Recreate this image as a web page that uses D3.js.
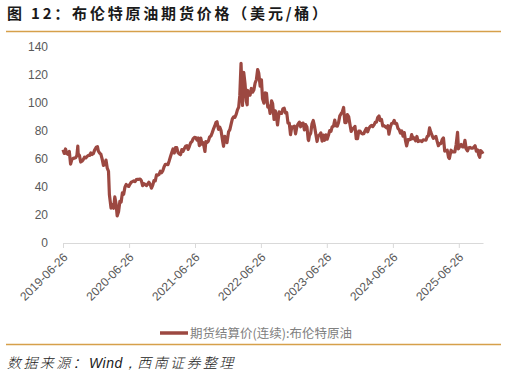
<!DOCTYPE html>
<html>
<head>
<meta charset="utf-8">
<script src="https://cdn.jsdelivr.net/npm/d3@7"></script>
<style>
  body { margin: 0; background: #fff; }
  svg { display: block; }
</style>
</head>
<body>
<div id="chart"></div>
<script>
// Brent futures settlement (continuous), USD/bbl, roughly weekly readings
var dates = [
  "2019-06-26","2019-07-03","2019-07-10","2019-07-17","2019-07-24","2019-07-31","2019-08-07","2019-08-14","2019-08-21","2019-08-28",
  "2019-09-04","2019-09-11","2019-09-16","2019-09-18","2019-09-25","2019-10-02","2019-10-09","2019-10-16","2019-10-23","2019-10-30",
  "2019-11-06","2019-11-13","2019-11-20","2019-11-27","2019-12-04","2019-12-11","2019-12-18","2019-12-27",
  "2020-01-03","2020-01-08","2020-01-15","2020-01-22","2020-01-29","2020-02-05","2020-02-12","2020-02-19","2020-02-26","2020-03-04",
  "2020-03-09","2020-03-18","2020-03-25","2020-04-01","2020-04-08","2020-04-15","2020-04-21","2020-04-29","2020-05-06","2020-05-13",
  "2020-05-20","2020-05-27","2020-06-03","2020-06-10","2020-06-17","2020-06-24","2020-07-01","2020-07-08","2020-07-15","2020-07-22",
  "2020-07-29","2020-08-05","2020-08-12","2020-08-19","2020-08-26","2020-09-02","2020-09-09","2020-09-16","2020-09-23","2020-09-30",
  "2020-10-07","2020-10-14","2020-10-21","2020-10-28","2020-11-04","2020-11-11","2020-11-18","2020-11-25","2020-12-02","2020-12-09",
  "2020-12-16","2020-12-23","2020-12-30",
  "2021-01-06","2021-01-13","2021-01-20","2021-01-27","2021-02-03","2021-02-10","2021-02-17","2021-02-24","2021-03-03","2021-03-10",
  "2021-03-17","2021-03-24","2021-03-31","2021-04-07","2021-04-14","2021-04-21","2021-04-28","2021-05-05","2021-05-12","2021-05-19",
  "2021-05-26","2021-06-02","2021-06-09","2021-06-16","2021-06-23","2021-06-30","2021-07-07","2021-07-14","2021-07-20","2021-07-28",
  "2021-08-04","2021-08-11","2021-08-20","2021-08-25","2021-09-01","2021-09-08","2021-09-15","2021-09-22","2021-09-28","2021-10-06",
  "2021-10-13","2021-10-20","2021-10-26","2021-11-03","2021-11-10","2021-11-17","2021-11-26","2021-12-01","2021-12-08","2021-12-15",
  "2021-12-20","2021-12-29",
  "2022-01-05","2022-01-12","2022-01-19","2022-01-26","2022-02-02","2022-02-09","2022-02-16","2022-02-23","2022-03-01","2022-03-08",
  "2022-03-16","2022-03-23","2022-03-30","2022-04-06","2022-04-11","2022-04-13","2022-04-20","2022-04-27","2022-05-04","2022-05-11",
  "2022-05-18","2022-05-25","2022-06-01","2022-06-08","2022-06-14","2022-06-22","2022-06-29","2022-07-05","2022-07-13","2022-07-20",
  "2022-07-27","2022-08-03","2022-08-10","2022-08-16","2022-08-24","2022-08-30","2022-09-07","2022-09-14","2022-09-21","2022-09-26",
  "2022-10-05","2022-10-12","2022-10-19","2022-10-26","2022-11-02","2022-11-09","2022-11-16","2022-11-23","2022-11-30","2022-12-07",
  "2022-12-14","2022-12-21","2022-12-28",
  "2023-01-04","2023-01-11","2023-01-18","2023-01-25","2023-02-01","2023-02-08","2023-02-15","2023-02-22","2023-03-01","2023-03-08",
  "2023-03-15","2023-03-17","2023-03-22","2023-03-29","2023-04-05","2023-04-12","2023-04-19","2023-04-26","2023-05-03","2023-05-10",
  "2023-05-17","2023-05-24","2023-05-31","2023-06-07","2023-06-14","2023-06-21","2023-06-28","2023-07-05","2023-07-12","2023-07-19",
  "2023-07-26","2023-08-02","2023-08-09","2023-08-16","2023-08-23","2023-08-30","2023-09-06","2023-09-13","2023-09-20","2023-09-27",
  "2023-10-04","2023-10-11","2023-10-18","2023-10-25","2023-11-01","2023-11-08","2023-11-15","2023-11-22","2023-11-29","2023-12-06",
  "2023-12-13","2023-12-20","2023-12-27",
  "2024-01-03","2024-01-10","2024-01-17","2024-01-24","2024-01-31","2024-02-07","2024-02-14","2024-02-21","2024-02-28","2024-03-06",
  "2024-03-13","2024-03-20","2024-03-27","2024-04-03","2024-04-10","2024-04-17","2024-04-24","2024-05-01","2024-05-08","2024-05-15",
  "2024-05-22","2024-05-29","2024-06-04","2024-06-12","2024-06-19","2024-06-26","2024-07-03","2024-07-10","2024-07-17","2024-07-24",
  "2024-07-31","2024-08-07","2024-08-14","2024-08-21","2024-08-28","2024-09-04","2024-09-10","2024-09-18","2024-09-25","2024-10-02",
  "2024-10-08","2024-10-16","2024-10-23","2024-10-30","2024-11-06","2024-11-13","2024-11-20","2024-11-27","2024-12-04","2024-12-11",
  "2024-12-18","2024-12-26",
  "2025-01-02","2025-01-08","2025-01-15","2025-01-22","2025-01-29","2025-02-05","2025-02-12","2025-02-19","2025-02-26","2025-03-05",
  "2025-03-12","2025-03-19","2025-03-26","2025-04-02","2025-04-09","2025-04-16","2025-04-23","2025-04-30","2025-05-05","2025-05-14",
  "2025-05-21","2025-05-28","2025-06-04","2025-06-11","2025-06-19","2025-06-24","2025-07-02","2025-07-09","2025-07-16","2025-07-23",
  "2025-07-30","2025-08-06","2025-08-13","2025-08-20","2025-08-27","2025-09-03","2025-09-10","2025-09-17","2025-09-24","2025-10-01",
  "2025-10-08","2025-10-15","2025-10-20","2025-10-24","2025-10-31","2025-11-07"
];
var prices = [
  66.5,63.8,67.0,63.7,63.2,65.2,56.2,59.5,60.3,60.5,
  60.7,62.4,69.0,63.6,62.4,57.7,58.3,59.4,61.2,60.6,
  61.7,62.4,62.4,64.1,63.0,63.7,66.2,68.2,
  68.6,65.4,64.0,63.2,59.8,55.3,55.8,59.1,53.4,51.1,
  34.4,24.9,27.4,24.7,32.8,27.7,19.3,22.5,29.7,29.2,
  35.8,34.7,39.8,41.7,40.7,40.3,42.0,43.3,43.8,44.3,
  43.8,45.2,45.4,45.4,45.6,44.4,40.8,42.2,41.7,40.9,
  41.9,43.3,41.7,39.1,41.2,44.5,44.3,48.6,48.3,48.9,
  51.1,50.1,51.6,
  54.3,56.1,56.1,55.8,58.5,61.5,64.3,67.0,64.1,67.9,
  68.0,64.4,63.5,62.9,66.6,65.3,67.3,68.9,69.3,66.7,
  68.9,71.4,72.2,74.4,75.2,75.1,73.4,74.8,69.4,74.7,
  70.4,71.4,65.2,72.3,71.6,72.6,75.5,76.2,78.1,81.1,
  83.2,85.8,86.4,81.0,82.6,80.3,72.7,68.9,76.0,73.9,
  71.5,79.2,
  80.8,84.7,88.4,89.9,89.5,91.6,94.8,96.8,105.0,128.0,
  98.0,121.6,113.5,101.1,98.5,108.8,106.8,105.3,110.1,107.5,
  109.1,114.0,116.3,123.6,121.2,111.7,116.3,102.8,99.6,106.9,
  106.6,96.8,97.4,92.3,101.2,99.3,88.0,94.1,89.8,84.1,
  93.4,92.5,92.4,95.7,96.0,92.7,92.9,85.4,85.4,77.2,
  82.7,82.2,83.3,
  77.8,82.7,84.9,86.1,82.8,85.1,85.4,80.6,84.3,82.7,
  73.7,73.0,76.7,78.3,84.9,87.3,83.1,77.7,72.3,76.4,
  77.0,78.4,72.6,76.9,73.2,77.1,74.0,76.7,80.1,79.5,
  82.9,83.2,87.6,83.5,83.2,85.9,90.6,92.1,93.5,96.6,
  85.8,85.8,91.5,90.1,84.6,79.5,81.2,81.9,83.1,74.3,
  74.3,79.7,79.7,
  78.3,77.8,77.9,80.0,81.7,79.2,81.6,83.0,83.7,82.9,
  84.0,85.9,86.1,89.4,90.5,87.3,88.0,83.4,83.6,82.8,
  82.0,83.6,77.5,82.6,85.1,85.3,87.3,85.1,85.1,81.7,
  80.7,78.3,79.8,76.1,78.7,72.7,69.2,73.7,73.5,73.9,
  77.2,74.2,74.9,72.8,75.9,72.3,72.8,72.8,72.3,73.5,
  73.4,73.3,
  75.9,76.2,82.0,79.0,76.6,74.6,75.2,76.0,72.5,69.3,
  70.9,70.8,73.8,74.9,65.5,65.9,66.1,61.1,60.2,66.1,
  64.9,64.9,64.9,69.8,78.8,67.1,69.1,70.2,68.5,68.5,
  73.2,67.0,65.6,67.8,68.1,67.6,67.5,68.2,69.3,65.4,
  66.3,62.4,61.0,65.9,65.1,63.6
];
var yTicks = [0, 20, 40, 60, 80, 100, 120, 140];
var xTicks = ["2019-06-26","2020-06-26","2021-06-26","2022-06-26","2023-06-26","2024-06-26","2025-06-26"];
var seriesName = "期货结算价(连续):布伦特原油";

var W = 507, H = 378;
var parse = d3.timeParse("%Y-%m-%d");
var data = dates.map(function (d, i) { return {date: parse(d), value: prices[i]}; });

var svg = d3.select("#chart").append("svg")
    .attr("width", W)
    .attr("height", H);

var x = d3.scaleTime()
    .domain([parse(dates[0]), parse(dates[dates.length - 1])])
    .range([63, 483]);

var y = d3.scaleLinear()
    .domain([0, 140])
    .range([243, 46.5]);

// title + rules
svg.append("text")
    .attr("x", 7)
    .attr("y", 19)
    .text("图 12：布伦特原油期货价格（美元/桶）")
    .style("font-family", "'Noto Sans CJK SC', sans-serif")
    .style("font-size", "15px")
    .style("font-weight", "bold")
    .style("letter-spacing", "2.8px")
    .attr("fill", "#1a1a1a");

svg.append("line")
    .attr("x1", 6).attr("x2", 501)
    .attr("y1", 31.5).attr("y2", 31.5)
    .attr("stroke", "#d6a04a")
    .attr("stroke-width", 1.5);

svg.append("line")
    .attr("x1", 6).attr("x2", 501)
    .attr("y1", 344.5).attr("y2", 344.5)
    .attr("stroke", "#d6a04a")
    .attr("stroke-width", 1.5);

// y axis (labels only)
var yAxis = svg.append("g")
    .attr("transform", "translate(48,0)")
    .call(d3.axisLeft(y).tickValues(yTicks).tickSize(0).tickPadding(0));
yAxis.select(".domain").remove();
yAxis.selectAll("text")
    .style("font-family", "'Liberation Sans', Arial, sans-serif")
    .style("font-size", "12px")
    .attr("fill", "#595959");

// x axis
var xAxis = svg.append("g")
    .attr("transform", "translate(0,243)")
    .call(d3.axisBottom(x)
        .tickValues(xTicks.map(parse))
        .tickFormat(d3.timeFormat("%Y-%m-%d"))
        .tickSize(5)
        .tickSizeOuter(0));
xAxis.select(".domain").attr("stroke", "#d9d9d9");
xAxis.selectAll(".tick line").attr("stroke", "#d9d9d9");
xAxis.selectAll("text")
    .style("font-family", "'Liberation Sans', Arial, sans-serif")
    .style("font-size", "12px")
    .attr("fill", "#595959")
    .attr("text-anchor", "end")
    .attr("dy", null)
    .attr("y", 0)
    .attr("transform", "translate(5,15) rotate(-45)");

// the line
var line = d3.line()
    .x(function (d) { return x(d.date); })
    .y(function (d) { return y(d.value); });

svg.append("path")
    .datum(data)
    .attr("d", line)
    .attr("fill", "none")
    .attr("stroke", "#9c4841")
    .attr("stroke-width", 3.2)
    .attr("stroke-linejoin", "round");

// legend
svg.append("line")
    .attr("x1", 160).attr("x2", 188)
    .attr("y1", 333).attr("y2", 333)
    .attr("stroke", "#9c4841")
    .attr("stroke-width", 3.5);

svg.append("text")
    .attr("x", 190)
    .attr("y", 338)
    .text(seriesName)
    .style("font-family", "'Noto Sans CJK SC', sans-serif")
    .style("font-size", "12.5px")
    .attr("fill", "#808080");

// source
var src = svg.append("text")
    .attr("x", 7)
    .attr("y", 368)
    .style("font-family", "'Noto Sans CJK SC', sans-serif")
    .style("font-size", "14px")
    .style("font-style", "italic")
    .style("font-weight", "300")
    .attr("fill", "#1a1a1a");
src.append("tspan").text("数据来源：").style("letter-spacing", "2.4px");
src.append("tspan").text("Wind，").style("font-family", "'Liberation Sans', Arial, sans-serif").style("letter-spacing", "0.5px");
src.append("tspan").text("西南证券整理").style("letter-spacing", "2.4px");
</script>
</body>
</html>
